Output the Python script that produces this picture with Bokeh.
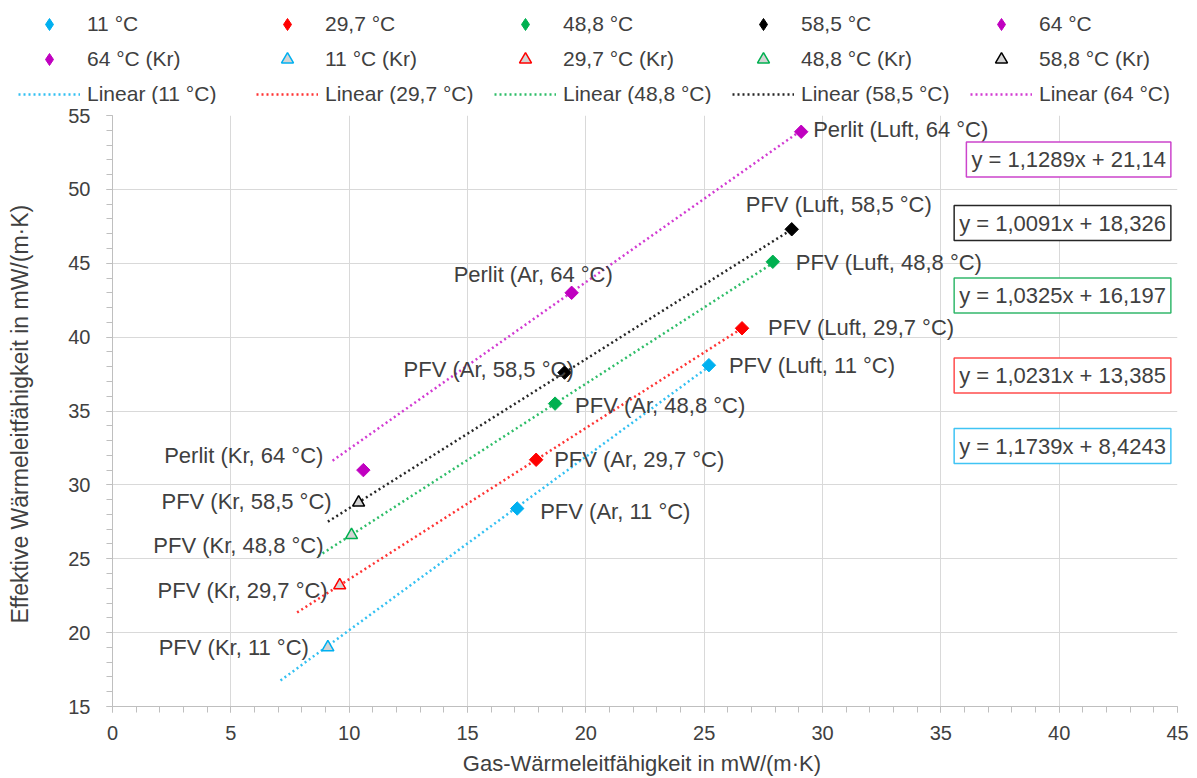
import numpy as np
from bokeh.plotting import figure
from bokeh.models import ColumnDataSource, Legend, LegendItem, Label, SingleIntervalTicker, Range1d
from bokeh.core.properties import value
from bokeh.embed import file_html
from bokeh.resources import INLINE

# ---------------- data ----------------
series = ["11 °C", "29,7 °C", "48,8 °C", "58,5 °C", "64 °C"]
kr_series = ["11 °C (Kr)", "29,7 °C (Kr)", "48,8 °C (Kr)", "58,8 °C (Kr)", "64 °C (Kr)"]
trend_names = ["Linear (11 °C)", "Linear (29,7 °C)", "Linear (48,8 °C)", "Linear (58,5 °C)", "Linear (64 °C)"]

x_luft = [25.2, 26.6, 27.9, 28.7, 29.1]
y_luft = [38.1, 40.6, 45.1, 47.3, 53.9]
x_ar = [17.1, 17.9, 18.7, 19.1, 19.4]
y_ar = [28.4, 31.7, 35.5, 37.6, 43.0]
x_kr = [9.1, 9.6, 10.1, 10.4, 10.6]
y_kr = [19.0, 23.2, 26.6, 28.8, 31.0]

slopes = [1.1739, 1.0231, 1.0325, 1.0091, 1.1289]
intercepts = [8.4243, 13.385, 16.197, 18.326, 21.14]
trend_x_start = [7.1, 7.8, 8.7, 9.1, 9.3]

labels_luft = ["PFV (Luft, 11 °C)", "PFV (Luft, 29,7 °C)", "PFV (Luft, 48,8 °C)",
               "PFV (Luft, 58,5 °C)", "Perlit (Luft, 64 °C)"]
labels_ar = ["PFV (Ar, 11 °C)", "PFV (Ar, 29,7 °C)", "PFV (Ar, 48,8 °C)",
             "PFV (Ar, 58,5 °C)", "Perlit (Ar, 64 °C)"]
labels_kr = ["PFV (Kr, 11 °C)", "PFV (Kr, 29,7 °C)", "PFV (Kr, 48,8 °C)",
             "PFV (Kr, 58,5 °C)", "Perlit (Kr, 64 °C)"]

# ---------------- styles ----------------
colors = ["#00b0f0", "#ff0000", "#00b050", "#000000", "#c000c0"]
trend_colors = ["#33c0f2", "#ff3333", "#2ebd68", "#262626", "#d23ad2"]
box_colors = ["#40c4f4", "#ff4d4d", "#33b86c", "#262626", "#cc44cc"]
FONT = "Liberation Sans"
TXT = "#404040"

off_luft = [(20, 0), (26, -1), (23, 1), (-46, -25), (12, -2)]
off_ar = [(23, 3), (18, 0), (20, 2), (-161, -3), (-118, -18)]
off_kr = [(-19, 0), (-12, 5), (-28, 10), (-27, -1), (-40, -15)]
eq_y = [32.63, 37.40, 42.82, 47.72, 52.02]
eq_x = 44.72

LEG_H = 104

p = figure(width=1197, height=778 - LEG_H, output_backend="svg", toolbar_location=None,
           x_range=Range1d(0, 45), y_range=Range1d(15, 55),
           min_border_left=112, min_border_right=20, min_border_top=115 - LEG_H,
           min_border_bottom=72)
p.outline_line_color = None
p.background_fill_color = "white"

for ax in (p.xaxis[0], p.yaxis[0]):
    ax.ticker = SingleIntervalTicker(interval=5, num_minor_ticks=5)
    ax.axis_line_color = "#bfbfbf"
    ax.major_tick_line_color = "#bfbfbf"
    ax.minor_tick_line_color = "#bfbfbf"
    ax.major_tick_in = 0
    ax.major_tick_out = 6
    ax.minor_tick_in = 0
    ax.minor_tick_out = 6
    ax.major_label_text_font = FONT
    ax.major_label_text_font_size = "20px"
    ax.major_label_text_color = TXT
    ax.axis_label_text_font = FONT
    ax.axis_label_text_font_style = "normal"
    ax.axis_label_text_color = TXT

p.xaxis.axis_label = "Gas-Wärmeleitfähigkeit  in mW/(m·K)"
p.yaxis.axis_label = "Effektive Wärmeleitfähigkeit  in mW/(m·K)"
p.xaxis.axis_label_text_font_size = "22px"
p.yaxis.axis_label_text_font_size = "23px"
p.xaxis.major_label_standoff = 13
p.xaxis.axis_label_standoff = 8
p.yaxis.major_label_standoff = 16
p.yaxis.axis_label_standoff = 32

p.xgrid.ticker = SingleIntervalTicker(interval=5)
p.ygrid.ticker = SingleIntervalTicker(interval=5)
p.grid.grid_line_color = "#d9d9d9"
p.grid.grid_line_width = 1

# trendlines
for i in range(5):
    xs = np.array([trend_x_start[i], x_luft[i]])
    ys = slopes[i] * xs + intercepts[i]
    p.line(xs, ys, line_color=trend_colors[i], line_width=2.5, line_dash="2 3")

DIAMOND = dict(marker="square", angle=np.pi / 4, size=9.5)
LEG_DIAMOND = dict(marker="diamond", size=14)
TRI = dict(marker="triangle", size=12, fill_color="#d4d4d4", line_width=1.5)

for i in range(5):
    src = ColumnDataSource(dict(x=[x_ar[i], x_luft[i]], y=[y_ar[i], y_luft[i]]))
    p.scatter("x", "y", source=src, fill_color=colors[i], line_color=colors[i], **DIAMOND)

for i in range(5):
    src = ColumnDataSource(dict(x=[x_kr[i]], y=[y_kr[i]]))
    if i < 4:
        p.scatter("x", "y", source=src, line_color=colors[i], **TRI)
    else:
        p.scatter("x", "y", source=src, fill_color=colors[i], line_color=colors[i], **DIAMOND)

def add_labels(xs, ys, texts, offs, align):
    src = ColumnDataSource(dict(x=xs, y=ys, text=texts,
                                dx=[o[0] for o in offs], dy=[o[1] for o in offs]))
    p.text("x", "y", text="text", source=src, x_offset="dx", y_offset="dy",
           text_align=align, text_baseline="middle", text_font=value(FONT),
           text_font_size="22px", text_color=TXT)

add_labels(x_luft, y_luft, labels_luft, off_luft, "left")
add_labels(x_ar, y_ar, labels_ar, off_ar, "left")
add_labels(x_kr, y_kr, labels_kr, off_kr, "right")

for i in range(5):
    eq = f"y = {slopes[i]}x + {intercepts[i]}".replace(".", ",")
    lab = Label(x=eq_x, y=eq_y[i], text=eq, text_align="right", text_baseline="middle",
                text_font=FONT, text_font_size="22px", text_color=TXT,
                border_line_color=box_colors[i], border_line_width=1.5,
                background_fill_color="white", padding=5)
    p.add_layout(lab)

# ---------------- legend figure (separate root, full-width frame) ----------------
lf = figure(width=1197, height=LEG_H, output_backend="svg", toolbar_location=None,
            x_axis_type=None, y_axis_type=None, x_range=Range1d(0, 1), y_range=Range1d(0, 1),
            min_border=0, min_border_left=0, min_border_right=0,
            min_border_top=0, min_border_bottom=0)
lf.outline_line_color = None
lf.grid.visible = False

# legend proxies carry the same data; it lies outside this strip's range, so only
# the legend swatches are visible here
def proxy(i, which):
    if which == "main":
        return ColumnDataSource(dict(x=[x_ar[i], x_luft[i]], y=[y_ar[i], y_luft[i]]))
    if which == "kr":
        return ColumnDataSource(dict(x=[x_kr[i]], y=[y_kr[i]]))
    xs = np.array([trend_x_start[i], x_luft[i]])
    return ColumnDataSource(dict(x=xs, y=slopes[i] * xs + intercepts[i]))

items = []
for i in range(5):
    r = lf.scatter("x", "y", source=proxy(i, "main"), fill_color=colors[i],
                   line_color=colors[i], **LEG_DIAMOND)
    items.append(LegendItem(label=series[i], renderers=[r]))
for i in [4, 0, 1, 2, 3]:
    if i < 4:
        r = lf.scatter("x", "y", source=proxy(i, "kr"), line_color=colors[i], **TRI)
    else:
        r = lf.scatter("x", "y", source=proxy(i, "kr"), fill_color=colors[i],
                       line_color=colors[i], **LEG_DIAMOND)
    items.append(LegendItem(label=kr_series[i], renderers=[r]))
for i in range(5):
    r = lf.line("x", "y", source=proxy(i, "trend"), line_color=trend_colors[i],
                line_width=2.5, line_dash="2 3")
    items.append(LegendItem(label=trend_names[i], renderers=[r]))

legend = Legend(items=items, orientation="horizontal", ncols=5, location=(18, -5),
                glyph_width=62, glyph_height=30, label_height=30, label_width=164,
                label_standoff=7, spacing=5, padding=0, margin=0,
                border_line_color=None, background_fill_alpha=0,
                label_text_font=FONT, label_text_font_size="21px", label_text_color=TXT)
lf.add_layout(legend)

open("out.html", "w").write(file_html([lf, p], INLINE))
